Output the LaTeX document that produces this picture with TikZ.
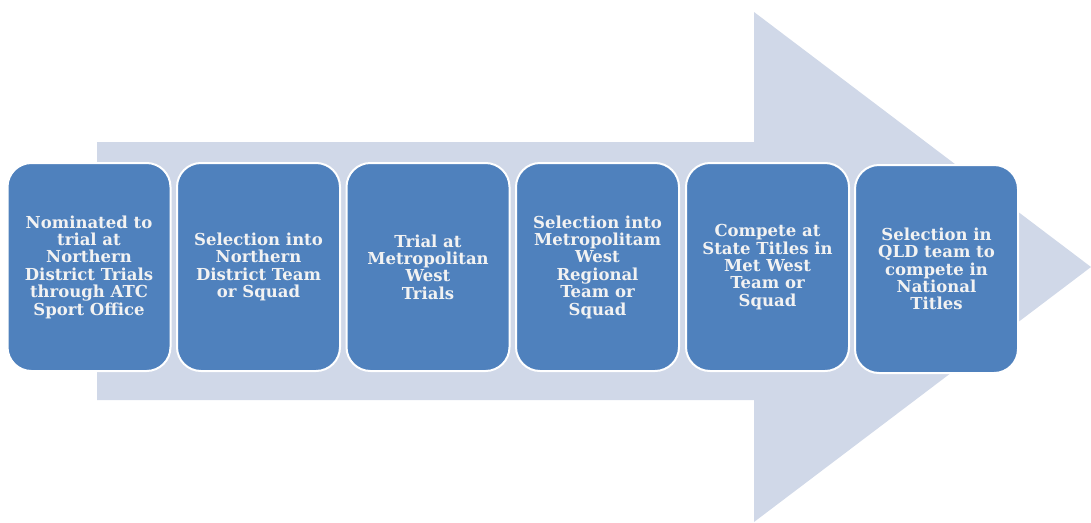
\documentclass[tikz,border=0pt]{standalone}
\usepackage{fontspec}
\setmainfont{DejaVu Serif}
\definecolor{arrowfill}{HTML}{D0D8E8}
\definecolor{boxfill}{HTML}{4F81BD}
\definecolor{boxtext}{HTML}{F2F2F2}
\begin{document}
\begin{tikzpicture}[x=1pt,y=-1pt,
  stepbox/.style={draw=white, line width=2pt, fill=boxfill, rounded corners=24pt,
    minimum width=163pt, minimum height=208pt, inner sep=0pt,
    text=boxtext, align=center,
    font=\bfseries\fontsize{16.5}{17.4}\selectfont}]
\useasboundingbox (0,0) rectangle (1091,522);
\fill[arrowfill] (97,142) -- (754,142) -- (754,12) -- (1091,267) -- (754,522) -- (754,400) -- (97,400) -- cycle;
\node[stepbox] (s1) at (89,267) {Nominated to\\trial at\\Northern\\District Trials\\through ATC\\Sport Office};
\node[stepbox] (s2) at (258.5,267) {Selection into\\Northern\\District Team\\or Squad};
\node[stepbox] (s3) at (428,267) {Trial at\\Metropolitan\\West\\Trials};
\node[stepbox] (s4) at (597.5,267) {Selection into\\Metropolitam\\West\\Regional\\Team or\\Squad};
\node[stepbox] (s5) at (767.5,267) {Compete at\\State Titles in\\Met West\\Team or\\Squad};
\node[stepbox] (s6) at (936.5,269) {Selection in\\QLD team to\\compete in\\National\\Titles};
\end{tikzpicture}
\end{document}
